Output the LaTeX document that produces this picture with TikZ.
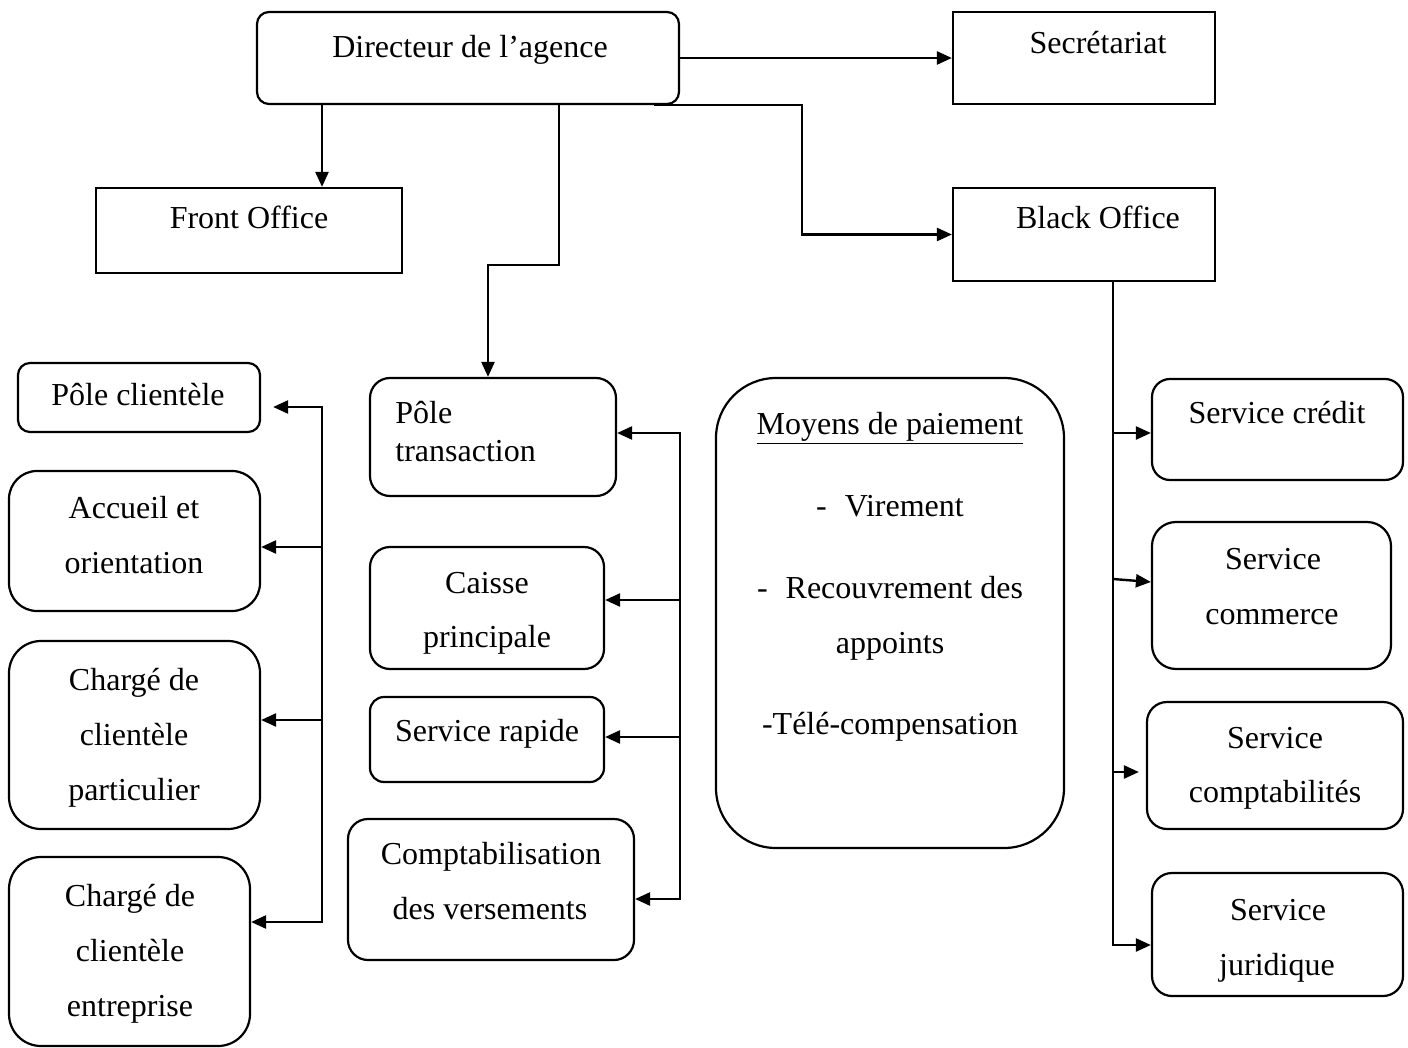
\documentclass[tikz,border=0pt]{standalone}
\usepackage{fontspec}
\setmainfont{Liberation Serif}
\usetikzlibrary{arrows.meta,fit,calc}
\begin{document}
\begin{tikzpicture}[x=0.5pt,y=-0.5pt,
  bx/.style={draw, line width=1.1pt, inner sep=0pt},
  rb/.style={bx, rounded corners=#1},
  lbl/.style={inner sep=0pt, anchor=base, font=\fontsize{16}{19}\selectfont},
  lblw/.style={lbl, anchor=base west},
  ln/.style={line width=1.2pt},
  trunk/.style={ln, line cap=rect},
  arr/.style={ln, -{Triangle[length=7.5pt,width=6.5pt]}}]
\useasboundingbox (0,0) rectangle (1408,1048);
% boxes
\node[rb=6pt, fit={(257,12)(679,104)}] (dir) {};
\node[bx, fit={(953,12)(1215,104)}] (sec) {};
\node[bx, fit={(96,188)(402,273)}] (fo) {};
\node[bx, fit={(953,188)(1215,281)}] (bo) {};
\node[rb=6pt, fit={(18,363)(260,432)}] (pc) {};
\node[rb=14pt, fit={(9,471)(260,611)}] (acc) {};
\node[rb=16pt, fit={(9,641)(260,829)}] (cp) {};
\node[rb=16pt, fit={(9,857)(250,1046)}] (ce) {};
\node[rb=10pt, fit={(370,378)(616,496)}] (pt) {};
\node[rb=10pt, fit={(370,547)(604,669)}] (cai) {};
\node[rb=7pt, fit={(370,697)(604,782)}] (sr) {};
\node[rb=10pt, fit={(348,819)(634,960)}] (cv) {};
\node[rb=30pt, fit={(716,378)(1064,848)}] (mp) {};
\node[rb=9pt, fit={(1152,379)(1403,480)}] (scr) {};
\node[rb=12pt, fit={(1152,522)(1391,669)}] (sco) {};
\node[rb=10pt, fit={(1147,702)(1403,829)}] (scp) {};
\node[rb=10pt, fit={(1152,873)(1403,996)}] (sj) {};
% texts
\node[lbl] (t1) at (470,58) {Directeur de l’agence};
\node[lbl] (t2) at (1098,54) {Secrétariat};
\node[lbl] (t3) at (249,229) {Front Office};
\node[lbl] (t4) at (1098,229) {Black Office};
\node[lbl] (t5) at (138,405) {Pôle clientèle};
\node[lbl] (t6) at (134,518) {Accueil et};
\node[lbl] (t7) at (134,573) {orientation};
\node[lbl] (t8) at (134,690) {Chargé de};
\node[lbl] (t9) at (134,745) {clientèle};
\node[lbl] (t10) at (134,800) {particulier};
\node[lbl] (t11) at (130,906) {Chargé de};
\node[lbl] (t12) at (130,961) {clientèle};
\node[lbl] (t13) at (130,1016) {entreprise};
\node[lblw] (t14) at (395,423) {Pôle};
\node[lblw] (t15) at (395,461) {transaction};
\node[lbl] (t16) at (487,593) {Caisse};
\node[lbl] (t17) at (487,647) {principale};
\node[lbl] (t18) at (487,741) {Service rapide};
\node[lbl] (t19) at (491,864) {Comptabilisation};
\node[lbl] (t20) at (490,919) {des versements};
\node[lbl] (t21) at (890,434) {\underline{Moyens de paiement}};
\node[lbl] (t22) at (890,516) {-\hspace{9pt}Virement};
\node[lbl] (t23) at (890,598) {-\hspace{9pt}Recouvrement des};
\node[lbl] (t24) at (890,653) {appoints};
\node[lbl] (t25) at (890,734) {-Télé-compensation};
\node[lbl] (t26) at (1277,423) {Service crédit};
\node[lbl] (t27) at (1273,569) {Service};
\node[lbl] (t28) at (1272,624) {commerce};
\node[lbl] (t29) at (1275,748) {Service};
\node[lbl] (t30) at (1275,802) {comptabilités};
\node[lbl] (t31) at (1278,920) {Service};
\node[lbl] (t32) at (1277,975) {juridique};
% top connectors
\coordinate (xf) at (322,0);
\coordinate (xp) at (559,0);
\coordinate (xq) at (488,265);
\coordinate (xb) at (802,0);
\draw[arr] (dir.east) -- (dir.east -| sec.west);
\draw[arr] (dir.south -| xf) -- (fo.north -| xf);
\draw[arr] (dir.south -| xp) |- (xq) -- (xq |- pt.north);
\draw[arr] ($(dir.south east)+(-26,0)$) -- (dir.south -| xb) |- (bo.west);
% left trunk
\coordinate (l1) at (322,407);
\coordinate (l2) at (322,547);
\coordinate (l3) at (322,720);
\coordinate (l4) at (322,922);
\draw[trunk] (l1) -- (l4);
\draw[arr, shorten >=6pt] (l1) -- (l1 -| pc.east);
\draw[arr] (l2) -- (l2 -| acc.east);
\draw[arr] (l3) -- (l3 -| cp.east);
\draw[arr] (l4) -- (l4 -| ce.east);
% middle trunk
\coordinate (m1) at (680,433);
\coordinate (m2) at (680,600);
\coordinate (m3) at (680,737);
\coordinate (m4) at (680,899);
\draw[trunk] (m1) -- (m4);
\draw[arr] (m1) -- (m1 -| pt.east);
\draw[arr] (m2) -- (m2 -| cai.east);
\draw[arr] (m3) -- (m3 -| sr.east);
\draw[arr] (m4) -- (m4 -| cv.east);
% right trunk
\coordinate (r1) at (1113,433);
\coordinate (r2) at (1113,579);
\coordinate (r3) at (1113,772);
\coordinate (r4) at (1113,945);
\draw[trunk] (bo.south -| r4) -- (r4);
\draw[arr] (r1) -- (r1 -| scr.west);
\draw[arr] (r2) -- ($(r2 -| sco.west)+(0,3)$);
\draw[arr, shorten >=3.5pt] (r3) -- (r3 -| scp.west);
\draw[arr] (r4) -- (r4 -| sj.west);
\end{tikzpicture}
\end{document}
